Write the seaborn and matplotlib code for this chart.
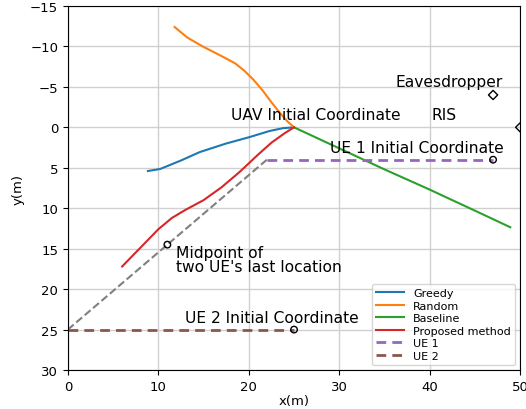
import pandas as pd
import seaborn as sns
import matplotlib.pyplot as plt

# trajectory data (x, y in metres)
greedy_x = [8.85, 10.2, 12.5, 14.6, 17.5, 20.1, 22.3, 23.8, 25.0]
greedy_y = [5.4, 5.15, 4.1, 3.05, 2.0, 1.2, 0.45, 0.1, 0.0]

random_x = [11.8, 13.2, 14.9, 17.0, 18.5, 19.5, 20.5, 21.5, 22.5, 23.5, 24.3, 25.0]
random_y = [-12.4, -11.1, -10.0, -8.8, -7.9, -7.0, -5.9, -4.6, -3.1, -1.7, -0.7, 0.0]

baseline_x = [25.0, 30.0, 35.0, 40.0, 42.3, 45.0, 48.9]
baseline_y = [0.0, 2.6, 5.2, 7.7, 8.9, 10.3, 12.35]

proposed_x = [6.0, 8.0, 10.0, 11.5, 13.0, 15.0, 17.0, 19.0, 21.0, 22.5, 24.0, 25.0]
proposed_y = [17.2, 14.9, 12.6, 11.2, 10.2, 9.0, 7.4, 5.5, 3.4, 1.9, 0.7, 0.0]

ue1_x = [22.0, 47.0]
ue1_y = [4.0, 4.0]
ue2_x = [0.0, 25.0]
ue2_y = [25.0, 25.0]

# line between the two UE's last locations
last_x = [0.0, 22.0]
last_y = [25.0, 4.0]

# point markers
circle_x = [47.0, 25.0, 11.0]
circle_y = [4.0, 25.0, 14.5]
diamond_x = [47.0, 50.0]
diamond_y = [-4.0, 0.0]

fig, ax = plt.subplots(figsize=(5.26, 4.10), dpi=100)
fig.subplots_adjust(left=0.129, right=0.989, top=0.983, bottom=0.095)

def draw(xs, ys, label, color, ls="-", lw=1.5):
    df = pd.DataFrame({"x": xs, "y": ys})
    sns.lineplot(data=df, x="x", y="y", sort=False, estimator=None, ax=ax,
                 color=color, linestyle=ls, linewidth=lw, label=label)

draw(greedy_x, greedy_y, "Greedy", "tab:blue")
draw(random_x, random_y, "Random", "tab:orange")
draw(baseline_x, baseline_y, "Baseline", "tab:green")
draw(proposed_x, proposed_y, "Proposed method", "tab:red")
draw(ue1_x, ue1_y, "UE 1", "tab:purple", ls=(0, (3.5, 2.2)), lw=2)
draw(ue2_x, ue2_y, "UE 2", "tab:brown", ls=(0, (3.5, 2.2)), lw=2)
draw(last_x, last_y, None, "gray", ls="--", lw=1.5)

ax.scatter(circle_x, circle_y, s=22, facecolors="none", edgecolors="black",
           linewidths=1.0, zorder=5)
ax.scatter(diamond_x, diamond_y, marker="D", s=22, facecolors="none",
           edgecolors="black", linewidths=1.0, zorder=5)

fs = 11.2
ax.text(36.2, -5.1, "Eavesdropper", fontsize=fs)
ax.text(40.2, -1.0, "RIS", fontsize=fs)
ax.text(18.0, -1.0, "UAV Initial Coordinate", fontsize=fs)
ax.text(29.0, 3.0, "UE 1 Initial Coordinate", fontsize=fs)
ax.text(12.0, 17.8, "Midpoint of\ntwo UE's last location", fontsize=fs,
        linespacing=0.95)
ax.text(13.0, 24.0, "UE 2 Initial Coordinate", fontsize=fs)

ax.set_xlim(0, 50)
ax.set_ylim(30, -15)
ax.set_xticks([0, 10, 20, 30, 40, 50])
ax.set_yticks([-15, -10, -5, 0, 5, 10, 15, 20, 25, 30])
ax.grid(True, color="#d0d0d0", linewidth=1)
ax.set_axisbelow(True)
ax.tick_params(labelsize=9.5)
ax.set_xlabel("x(m)", fontsize=9.5, labelpad=1)
ax.set_ylabel("y(m)", fontsize=9.5)
ax.legend(loc="lower right", fontsize=8, handlelength=2.5,
          labelspacing=0.22, borderaxespad=0.45)

plt.savefig("out.png", dpi=100)
